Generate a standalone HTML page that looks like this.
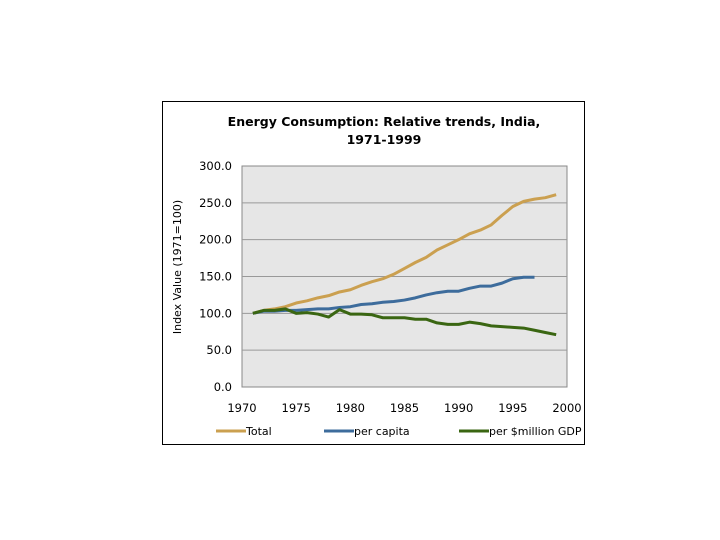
<!DOCTYPE html>
<html><head><meta charset="utf-8"><style>
body{margin:0;background:#fff;width:720px;height:540px;overflow:hidden}
svg{position:absolute;left:0;top:0}
text{font-family:"DejaVu Sans","Liberation Sans",sans-serif}
</style></head><body>
<svg width="720" height="540">
<rect x="162.5" y="101.5" width="422" height="343" fill="#fff" stroke="#000" stroke-width="1"/>
<text x="384" y="126" text-anchor="middle" font-size="12.5" font-weight="bold" fill="#000">Energy Consumption: Relative trends, India,</text>
<text x="384" y="144" text-anchor="middle" font-size="12.5" font-weight="bold" fill="#000">1971-1999</text>
<rect x="242" y="166" width="325" height="221" fill="#e6e6e6" stroke="#888"/>
<g id="grid"></g><g id="series"></g>
<text transform="translate(181,267) rotate(-90)" text-anchor="middle" font-size="11" fill="#000">Index Value (1971=100)</text>
<g>
<line x1="216" y1="431" x2="246" y2="431" stroke="#cba050" stroke-width="3"/>
<text x="246" y="435" font-size="11">Total</text>
<line x1="324" y1="431" x2="354" y2="431" stroke="#3d6c9c" stroke-width="3"/>
<text x="354" y="435" font-size="11">per capita</text>
<line x1="459" y1="431" x2="489" y2="431" stroke="#3a6612" stroke-width="3"/>
<text x="489" y="435" font-size="11">per $million GDP</text>
</g>
</svg>
<script>
const years=[1971,1972,1973,1974,1975,1976,1977,1978,1979,1980,1981,1982,1983,1984,1985,1986,1987,1988,1989,1990,1991,1992,1993,1994,1995,1996,1997,1998,1999];
const total=[100,104,106,109,114,117,121,124,129,132,138,143,147,153,161,169,176,186,193,200,208,213,220,233,245,252,255,257,261];
const perCapita=[100,103,103,104,104,105,106,106,108,109,112,113,115,116,118,121,125,128,130,130,134,137,137,141,147,149,149];
const perGdp=[100,104,104,106,100,101,99,95,105,99,99,98,94,94,94,92,92,87,85,85,88,86,83,82,81,80,77,74,71];
const yTicks=[0,50,100,150,200,250,300];
const xTicks=[1970,1975,1980,1985,1990,1995,2000];
const NS='http://www.w3.org/2000/svg';
const X=v=>242+(v-1970)*(325/30);
const Y=v=>387-v*(221/300);
const grid=document.getElementById('grid');
function mk(tag,attrs,parent){const e=document.createElementNS(NS,tag);for(const k in attrs)e.setAttribute(k,attrs[k]);parent.appendChild(e);return e;}
yTicks.forEach(t=>{
 if(t>0&&t<300){const l=mk('line',{x1:242,x2:567,y1:Y(t),y2:Y(t),stroke:'#999','stroke-width':1},grid);
 
 }
 const tx=mk('text',{x:232,y:Y(t)+4,'text-anchor':'end','font-size':11.5},grid);tx.textContent=t.toFixed(1);
 
 
});
xTicks.forEach(t=>{
 const tx=mk('text',{x:X(t),y:412,'text-anchor':'middle','font-size':11.5},grid);tx.textContent=t;
 
 
});
const ser=document.getElementById('series');
[[total,'#cba050','line-total'],[perCapita,'#3d6c9c','line-per-capita'],[perGdp,'#3a6612','line-per-gdp']].forEach(([d,c,n])=>{
 const p=mk('polyline',{points:d.map((v,i)=>X(years[i])+','+Y(v)).join(' '),fill:'none',stroke:c,'stroke-width':3,'stroke-linejoin':'round'},ser);
 
 
});
</script>
</body></html>
